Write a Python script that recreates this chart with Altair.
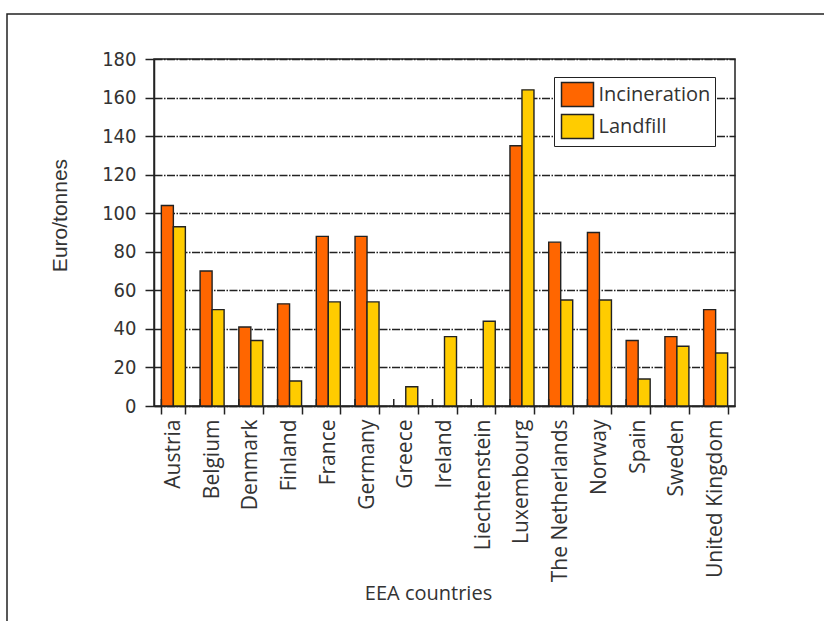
import altair as alt
import pandas as pd

# Treatment cost per tonne of waste, by country
countries = ["Austria", "Belgium", "Denmark", "Finland", "France", "Germany",
             "Greece", "Ireland", "Liechtenstein", "Luxembourg",
             "The Netherlands", "Norway", "Spain", "Sweden", "United Kingdom"]
incineration = [104, 70, 41, 53, 88, 88, None, None, None, 135, 85, 90, 34, 36, 50]
landfill = [93, 50, 34, 13, 54, 54, 10, 36, 44, 164, 55, 55, 14, 31, 27.5]
series = ["Incineration", "Landfill"]
series_colors = ["#FF6600", "#FFCC00"]

rows = []
for c, inc, lf in zip(countries, incineration, landfill):
    if inc is not None:
        rows.append({"country": c, "method": "Incineration", "value": inc})
    if lf is not None:
        rows.append({"country": c, "method": "Landfill", "value": lf})
df = pd.DataFrame(rows)

W, H = 581, 347
LABEL_FONT = "Open Sans"
TEXT = "#333333"
INK = "#222222"

x_scale = alt.Scale(domain=countries, paddingInner=0.38, paddingOuter=0.19)

bars = alt.Chart(df).mark_bar(stroke=INK, strokeWidth=1.4).encode(
    x=alt.X("country:N", scale=x_scale, sort=countries,
            axis=alt.Axis(title="EEA countries", labelAngle=-90, labelAlign="right",
                          labelBaseline="middle", labelPadding=5, tickSize=8,
                          tickBand="extent", labelFont=LABEL_FONT, labelFontSize=21,
                          labelColor=TEXT, titleFont=LABEL_FONT, titleFontSize=20,
                          titleColor=TEXT, titleFontWeight="normal",
                          titleX=274, titleY=187, titleBaseline="middle",
                          domainColor=INK, tickColor=INK,
                          domainWidth=1.5, tickWidth=1.5, labelLimit=300)),
    xOffset=alt.XOffset("method:N", scale=alt.Scale(domain=series)),
    y=alt.Y("value:Q", scale=alt.Scale(domain=[0, 180], nice=False),
            axis=alt.Axis(title="Euro/tonnes", values=list(range(0, 181, 20)),
                          tickSize=9, labelPadding=9,
                          labelFont="DejaVu Sans Condensed, Liberation Sans",
                          labelFontSize=20, labelColor=TEXT,
                          titleFont="Liberation Sans", titleFontSize=21,
                          titleFontWeight="normal", titleColor=TEXT,
                          titleX=-94, titleY=156, titleAngle=-90,
                          titleAlign="center", titleBaseline="middle",
                          grid=True, gridColor=INK, gridWidth=1.5,
                          gridDash=[8, 1.5, 1.5, 1.5],
                          domainColor=INK, tickColor=INK,
                          domainWidth=1.5, tickWidth=1.5)),
    color=alt.Color("method:N", scale=alt.Scale(domain=series, range=series_colors),
                    legend=alt.Legend(title=None, orient="none", legendX=400, legendY=18,
                                      symbolType="M-0.833,-1L1.833,-1L1.833,1L-0.833,1Z",
                                      symbolSize=576, symbolStrokeColor=INK,
                                      symbolStrokeWidth=1.5, labelFont=LABEL_FONT,
                                      labelFontSize=20, labelColor=TEXT, labelOffset=14,
                                      rowPadding=2, padding=4.5, strokeColor=INK,
                                      fillColor="white", labelLimit=300)),
)

# short tick marks reaching into the plot at each category boundary
inner_ticks = alt.Chart(pd.DataFrame({"country": countries})).mark_rule(
    color=INK, strokeWidth=1.5
).encode(
    x=alt.X("country:N", scale=x_scale, sort=countries, bandPosition=0),
    y=alt.value(H - 7),
    y2=alt.value(H),
)

# outer figure frame
frame = alt.Chart(pd.DataFrame({"a": [0]})).mark_rect(
    fill="transparent", stroke=INK, strokeWidth=1.5
).encode(
    x=alt.value(-147), x2=alt.value(690), y=alt.value(-45), y2=alt.value(580)
)

chart = alt.layer(bars, inner_ticks, frame).properties(
    width=W, height=H,
    autosize=alt.AutoSizeParams(type="none"),
    padding={"left": 154, "top": 59, "right": 89, "bottom": 215},
).configure_view(stroke=INK, strokeWidth=1.5)

chart.save("out.html", embed_options={"renderer": "svg", "actions": False})
